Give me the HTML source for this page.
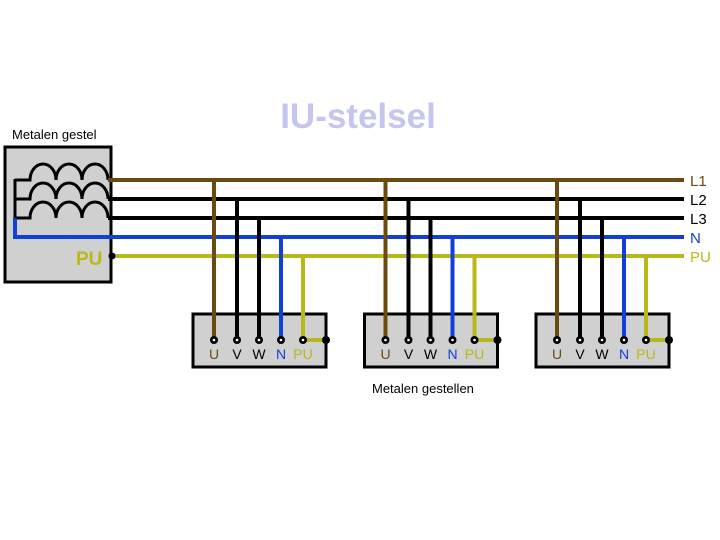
<!DOCTYPE html>
<html><head><style>
html,body{margin:0;padding:0;background:#fff;}
svg{display:block;}
text{font-family:"Liberation Sans",sans-serif;}
</style></head><body>
<svg width="720" height="540" viewBox="0 0 720 540" xmlns="http://www.w3.org/2000/svg">
<text x="358" y="128" font-size="35" font-weight="bold" fill="#c4c6f0" text-anchor="middle">IU-stelsel</text>
<text x="12" y="139" font-size="13" fill="#000">Metalen gestel</text>
<rect x="5" y="147" width="106" height="135" fill="#d0d0d0" stroke="#000" stroke-width="3"/>
<g fill="none" stroke="#000" stroke-width="3">
<path d="M15,180 H30 a13,16 0 0 1 26,0 a13,16 0 0 1 26,0 a13,16 0 0 1 26,0"/>
<path d="M15,199 H30 a13,16 0 0 1 26,0 a13,16 0 0 1 26,0 a13,16 0 0 1 26,0"/>
<path d="M15,218 H30 a13,16 0 0 1 26,0 a13,16 0 0 1 26,0 a13,16 0 0 1 26,0"/>
<path d="M15,179 V218"/>
</g>
<path d="M15,218 V237 H684" stroke="#1040d8" stroke-width="4" fill="none"/>
<line x1="108" y1="180" x2="684" y2="180" stroke="#6b4a10" stroke-width="4"/>
<line x1="108" y1="199" x2="684" y2="199" stroke="#000" stroke-width="4"/>
<line x1="108" y1="218" x2="684" y2="218" stroke="#000" stroke-width="4"/>
<line x1="112" y1="256" x2="684" y2="256" stroke="#b8b818" stroke-width="4"/>
<circle cx="112" cy="256" r="3.5" fill="#000"/>
<text x="76" y="265" font-size="19" font-weight="bold" fill="#b8b818">PU</text>
<g font-size="15">
<text x="690" y="186" fill="#6b4a10">L1</text>
<text x="690" y="205" fill="#000">L2</text>
<text x="690" y="224" fill="#000">L3</text>
<text x="690" y="243" fill="#1040d8">N</text>
<text x="690" y="262" fill="#b8b818">PU</text>
</g>
<defs>
<g id="u">
<rect x="193" y="314" width="133" height="53" fill="#d0d0d0" stroke="#000" stroke-width="3"/>
<line x1="214" y1="180" x2="214" y2="340" stroke="#6b4a10" stroke-width="4"/>
<line x1="237" y1="199" x2="237" y2="340" stroke="#000" stroke-width="4"/>
<line x1="259" y1="218" x2="259" y2="340" stroke="#000" stroke-width="4"/>
<line x1="281" y1="237" x2="281" y2="340" stroke="#1040d8" stroke-width="4"/>
<path d="M303,256 V340 H325" stroke="#b8b818" stroke-width="4" fill="none"/>
<g fill="#000">
<circle cx="214" cy="340" r="4"/><circle cx="237" cy="340" r="4"/><circle cx="259" cy="340" r="4"/><circle cx="281" cy="340" r="4"/><circle cx="303" cy="340" r="4"/><circle cx="326" cy="340" r="4"/>
</g>
<g fill="#fff"><circle cx="214" cy="340" r="1.3"/><circle cx="237" cy="340" r="1.3"/><circle cx="259" cy="340" r="1.3"/><circle cx="281" cy="340" r="1.3"/><circle cx="303" cy="340" r="1.3"/></g>
<g font-size="14" text-anchor="middle">
<text x="214" y="359" fill="#6b4a10">U</text>
<text x="237" y="359" fill="#000">V</text>
<text x="259" y="359" fill="#000">W</text>
<text x="281" y="359" fill="#1040d8">N</text>
<text x="303" y="359" fill="#b8b818">PU</text>
</g>
</g>
</defs>
<use href="#u"/>
<use href="#u" x="171.5"/>
<use href="#u" x="343"/>
<text x="372" y="393" font-size="13" fill="#000">Metalen gestellen</text>
</svg>
</body></html>
